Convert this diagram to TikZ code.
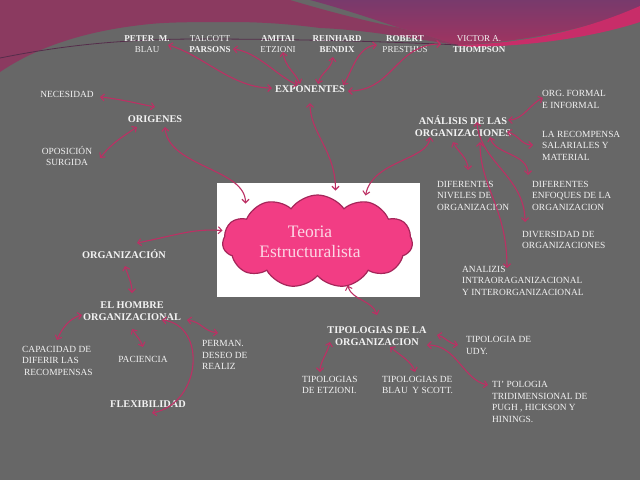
\documentclass[tikz,border=0pt]{standalone}
\usepackage{fontspec}
\setmainfont{Liberation Serif}
\usetikzlibrary{arrows.meta,shapes.symbols}
\definecolor{bg}{RGB}{103,103,103}
\definecolor{crim}{RGB}{139,58,96}
\definecolor{purtop}{RGB}{120,58,108}
\definecolor{purbot}{RGB}{160,52,96}
\definecolor{ribbon}{RGB}{200,45,105}
\definecolor{darkline}{RGB}{85,45,75}
\definecolor{conc}{RGB}{188,48,100}
\definecolor{txt}{RGB}{242,242,242}
\definecolor{cloudfill}{RGB}{242,61,132}
\definecolor{cloudline}{RGB}{165,38,90}
\definecolor{cloudtxt}{RGB}{252,214,228}
\tikzset{
  nm/.style={font=\fontsize{9}{11}\selectfont, text=txt, inner sep=0pt, align=center},
  hd/.style={font=\fontsize{10.3}{12}\selectfont\bfseries, text=txt, inner sep=0pt, align=center},
  lbl/.style={font=\fontsize{9.4}{11.5}\selectfont, text=txt, inner sep=0pt, align=left, anchor=west},
  con/.style={draw=conc, line width=1.1pt, <->, >={Straight Barb[length=3.5pt,width=7pt]}},
}
\begin{document}
\begin{tikzpicture}[x=1pt,y=-1pt]
\useasboundingbox (0,0) rectangle (640,480);
% background
\fill[bg] (0,0) rectangle (640,480);
% top decoration
\fill[crim] (0,0) -- (290,0) .. controls (330,12) and (370,22) .. (400,28)
  .. controls (420,33) and (440,40) .. (458,45)
  .. controls (420,40) and (370,30) .. (320,28)
  .. controls (290,24) and (260,22) .. (233,22)
  .. controls (200,22) and (170,22) .. (150,24)
  .. controls (90,30) and (40,45) .. (0,72) -- cycle;
\shade[top color=purtop, bottom color=purbot] (310,0) -- (640,0) -- (640,8)
  .. controls (600,25) and (530,42) .. (458,45)
  .. controls (440,40) and (420,33) .. (400,28)
  .. controls (370,18) and (340,8) .. (310,0) -- cycle;
\fill[ribbon] (455,45) .. controls (530,44) and (590,28) .. (640,6) -- (640,22)
  .. controls (600,35) and (540,46) .. (470,47) -- cycle;
\draw[darkline, line width=0.8pt] (0,58) .. controls (50,48) and (110,39) .. (200,39)
  .. controls (300,39) and (400,42) .. (458,45);
% center
\node[fill=white, minimum width=203pt, minimum height=114pt, inner sep=0pt] (frame) at (318.5,240) {};
\node[cloud, cloud puffs=11, cloud puff arc=110, cloud ignores aspect, draw=cloudline, fill=cloudfill,
  line width=1.2pt, minimum width=190pt, minimum height=93pt, inner sep=0pt] (cloud) at (317.5,241.5) {};
\node[font=\fontsize{17.5}{20}\selectfont, text=cloudtxt, align=center, inner sep=0pt] (title) at (310,242) {Teoria\\Estructuralista};
% top names
\node[nm] (blau) at (147,44) {\textbf{PETER\ \ M.}\\BLAU};
\node[nm] (parsons) at (210,44) {TALCOTT\\\textbf{PARSONS}};
\node[nm] (etzioni) at (278,44) {\textbf{AMITAI}\\ETZIONI};
\node[nm] (bendix) at (337,44) {\textbf{REINHARD}\\\textbf{BENDIX}};
\node[nm] (presthus) at (405,44) {\textbf{ROBERT}\\PRESTHUS};
\node[nm] (thompson) at (479,44) {VICTOR A.\\\textbf{THOMPSON}};
\node[hd] (exp) at (310,89) {EXPONENTES};
% left
\node[lbl, anchor=center] (necesidad) at (67,94) {NECESIDAD};
\node[hd] (origenes) at (155,119) {ORIGENES};
\node[lbl, anchor=center, align=center] (oposicion) at (67,156) {OPOSICIÓN\\SURGIDA};
\node[hd] (organizacion) at (124,254) {ORGANIZACIÓN};
\node[hd] (hombre) at (132,311) {EL HOMBRE\\ORGANIZACIONAL};
\node[lbl] (capacidad) at (22,360.5) {CAPACIDAD DE\\DIFERIR LAS\\\hspace{2pt}RECOMPENSAS};
\node[lbl, anchor=center] (paciencia) at (143,359) {PACIENCIA};
\node[lbl] (perman) at (202,355) {PERMAN.\\DESEO DE\\REALIZ};
\node[hd] (flex) at (148,404) {FLEXIBILIDAD};
% right
\node[hd] (analisis) at (463,126) {ANÁLISIS DE LAS\\ORGANIZACIONES};
\node[lbl] (formal) at (542,99.5) {ORG. FORMAL\\E INFORMAL};
\node[lbl] (recompensa) at (542,145.5) {LA RECOMPENSA\\SALARIALES Y\\MATERIAL};
\node[lbl] (niveles) at (437,195.5) {DIFERENTES\\NIVELES DE\\ORGANIZACION};
\node[lbl] (enfoques) at (532,195.5) {DIFERENTES\\ENFOQUES DE LA\\ORGANIZACION};
\node[lbl] (diversidad) at (522,240) {DIVERSIDAD DE\\ORGANIZACIONES};
\node[lbl] (analizis) at (462,280.5) {ANALIZIS\\INTRAORAGANIZACIONAL\\Y INTERORGANIZACIONAL};
% bottom right
\node[hd] (tipologias) at (377,336) {TIPOLOGIAS DE LA\\ORGANIZACION};
\node[lbl] (udy) at (466,345.5) {TIPOLOGIA DE\\UDY.};
\node[lbl] (etz2) at (302,385) {TIPOLOGIAS\\DE ETZIONI.};
\node[lbl] (scott) at (382,385) {TIPOLOGIAS DE\\BLAU\ \ Y SCOTT.};
\node[lbl] (pugh) at (492,402) {TI’ POLOGIA\\TRIDIMENSIONAL DE\\PUGH , HICKSON Y\\HININGS.};
% connectors: exponentes
\draw[con] ([shift={(21,1)}]blau.center) .. controls +(35,10) and +(-40,0) .. ([shift={(-38,-1)}]exp.center);
\draw[con] ([shift={(23,5)}]parsons.center) .. controls +(25,3) and +(-20,-8) .. ([shift={(-12,-4)}]exp.center);
\draw[con] ([shift={(5,8)}]etzioni.center) .. controls +(2,15) and +(-5,-12) .. ([shift={(-10,-5)}]exp.center);
\draw[con] ([shift={(-4,13)}]bendix.center) .. controls +(-2,13) and +(3,-12) .. ([shift={(8,-5)}]exp.center);
\draw[con] ([shift={(-28,1)}]presthus.center) .. controls +(-20,2) and +(10,-15) .. ([shift={(33,-4)}]exp.center);
\draw[con] ([shift={(38,2)}]exp.center) .. controls +(45,0) and +(-45,0) .. ([shift={(-38,0)}]thompson.center);
\draw[con] ([shift={(0,14)}]exp.center) .. controls +(0,30) and +(0,-40) .. ([shift={(18,-51)}]cloud.center);
\draw[con] ([shift={(-33,11)}]analisis.center) .. controls +(-2,23) and +(7,-35) .. ([shift={(48,-46)}]cloud.center);
% origenes
\draw[con] ([shift={(33,3)}]necesidad.center) .. controls +(20,2) and +(-20,-4) .. ([shift={(0,-12)}]origenes.center);
\draw[con] ([shift={(33,2)}]oposicion.center) .. controls +(12,-15) and +(-15,10) .. ([shift={(-18,8)}]origenes.center);
\draw[con] ([shift={(10,8)}]origenes.center) .. controls +(3,40) and +(0,-35) .. ([shift={(-72,-38)}]cloud.center);
% organizacion
\draw[con] ([shift={(-95,-11)}]cloud.center) .. controls +(-30,-2) and +(40,-8) .. ([shift={(13,-11)}]organizacion.center);
\draw[con] ([shift={(1,12)}]organizacion.center) .. controls +(3,10) and +(0,-10) .. ([shift={(0,-18)}]hombre.center);
\draw[con] ([shift={(-50,4)}]hombre.center) .. controls +(-12,3) and +(5,-12) .. ([shift={(35,-20.5)}]capacidad.west);
\draw[con] ([shift={(0,18)}]hombre.center) .. controls +(5,8) and +(-3,-8) .. ([shift={(0,-12)}]paciencia.center);
\draw[con] ([shift={(55,9)}]hombre.center) .. controls +(15,2) and +(-15,-2) .. ([shift={(16,-22)}]perman.west);
\draw[con] ([shift={(30,9)}]hombre.center) .. controls +(45,5) and +(50,-10) .. ([shift={(4,9)}]flex.center);
% analisis
\draw[con] ([shift={(45,-6)}]analisis.center) .. controls +(15,0) and +(-12,5) .. ([shift={(1,-1.5)}]formal.west);
\draw[con] ([shift={(44,6)}]analisis.center) .. controls +(12,3) and +(-12,0) .. ([shift={(-9,-0.5)}]recompensa.west);
\draw[con] ([shift={(-10,16)}]analisis.center) .. controls +(5,10) and +(0,-12) .. ([shift={(31,-25.5)}]niveles.west);
\draw[con] ([shift={(27,11)}]analisis.center) .. controls +(5,18) and +(0,-22) .. ([shift={(-4,-20.5)}]enfoques.west);
\draw[con] ([shift={(14,-4)}]analisis.center) .. controls +(3,40) and +(0,-45) .. ([shift={(3,-18)}]diversidad.west);
\draw[con] ([shift={(17,16)}]analisis.center) .. controls +(0,45) and +(0,-60) .. ([shift={(45,-12.5)}]analizis.west);
% tipologias
\draw[con] ([shift={(30,44)}]cloud.center) .. controls +(5,15) and +(-5,-15) .. ([shift={(0,-21)}]tipologias.center);
\draw[con] ([shift={(60,-1)}]tipologias.center) .. controls +(8,2) and +(-10,-2) .. ([shift={(-8,-0.5)}]udy.west);
\draw[con] ([shift={(50,9)}]tipologias.center) .. controls +(30,0) and +(-25,-5) .. ([shift={(-4,-17)}]pugh.west);
\draw[con] ([shift={(-47,6)}]tipologias.center) .. controls +(-3,12) and +(0,-10) .. ([shift={(18,-13)}]etz2.west);
\draw[con] ([shift={(13,11)}]tipologias.center) .. controls +(10,8) and +(-3,-10) .. ([shift={(33,-13)}]scott.west);
\end{tikzpicture}
\end{document}
